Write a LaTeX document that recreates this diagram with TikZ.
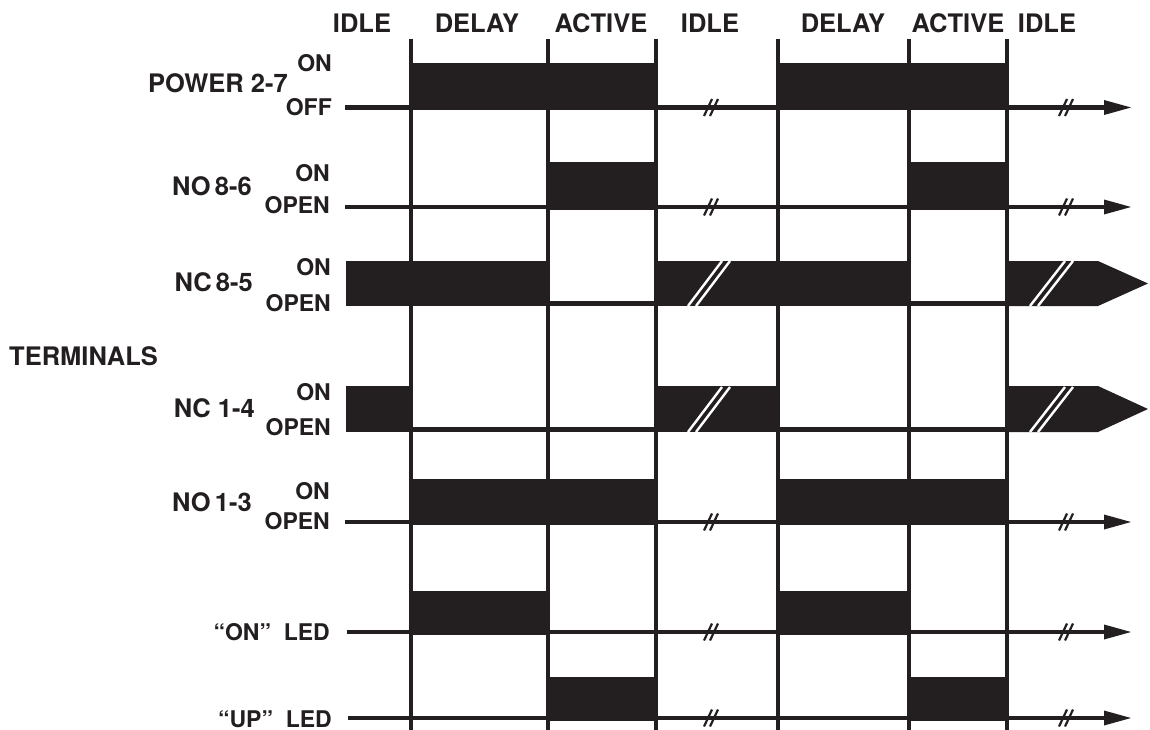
\documentclass[tikz,border=0pt]{standalone}
\usepackage{fontspec}
\setmainfont{TeX Gyre Heros}
\definecolor{ink}{RGB}{35,31,32}
\begin{document}
\begin{tikzpicture}[x=1pt,y=-1pt,
  big/.style={font=\fontsize{25.5}{27}\selectfont\bfseries, text=ink, inner sep=0pt},
  small/.style={font=\fontsize{23}{24}\selectfont\bfseries, text=ink, inner sep=0pt},
  grid/.style={draw=ink, line width=4pt},
  base/.style={draw=ink, line width=4.5pt},
  bar/.style={fill=ink, draw=none},
  slash/.style={draw=ink, line width=2.2pt},
  wslash/.style={draw=white, line width=2.4pt},
  tip/.style={fill=ink, draw=none}]
\useasboundingbox (0,0) rectangle (1150,730);

% ---------- header labels ----------
\node[big, anchor=base] (h1) at (362,33) {IDLE};
\node[big, anchor=base] (h2) at (477,33) {DELAY};
\node[big, anchor=base] (h3) at (601,33) {ACTIVE};
\node[big, anchor=base] (h4) at (710,33) {IDLE};
\node[big, anchor=base] (h5) at (843,33) {DELAY};
\node[big, anchor=base] (h6) at (958,33) {ACTIVE};
\node[big, anchor=base] (h7) at (1047,33) {IDLE};

% ---------- row labels ----------
\node[big, anchor=base east] (lpow) at (288,93) {POWER 2-7};
\node[small, anchor=base east] (lpowon) at (332,72) {ON};
\node[small, anchor=base east] (lpowoff) at (332,116) {OFF};

\node[big, anchor=base east] (lno86) at (252,195) {NO\,8-6};
\node[small, anchor=base east] (lno86on) at (330,182) {ON};
\node[small, anchor=base east] (lno86op) at (330,213) {OPEN};

\node[big, anchor=base east] (lnc85) at (253,291) {NC\,8-5};
\node[small, anchor=base east] (lnc85on) at (331,275) {ON};
\node[small, anchor=base east] (lnc85op) at (331,311) {OPEN};

\node[big, anchor=base west] (lterm) at (9,365) {TERMINALS};

\node[big, anchor=base east] (lnc14) at (255,417) {NC 1-4};
\node[small, anchor=base east] (lnc14on) at (331,400) {ON};
\node[small, anchor=base east] (lnc14op) at (331,435) {OPEN};

\node[big, anchor=base east] (lno13) at (252,511) {NO\,1-3};
\node[small, anchor=base east] (lno13on) at (330,499) {ON};
\node[small, anchor=base east] (lno13op) at (330,529) {OPEN};

\node[small, anchor=base east] (lonled) at (330,640) {“ON”\ \ LED};
\node[small, anchor=base east] (lupled) at (332,727) {“UP”\ \ LED};

% ---------- vertical phase lines ----------
\foreach \x in {411,548,656,778,909,1007}
  \draw[grid] (\x,39) -- (\x,730);

% ---------- POWER 2-7 ----------
\draw[base] (345,107.5) -- (1108,107.5);
\fill[tip] (1104,100) -- (1131,107.5) -- (1104,115) -- cycle;
\fill[bar] (411,63) rectangle (656,110);
\fill[bar] (778,63) rectangle (1007,110);

% ---------- NO 8-6 ----------
\draw[base] (345,207) -- (1108,207);
\fill[tip] (1104,199.5) -- (1131,207) -- (1104,214.5) -- cycle;
\fill[bar] (548,162) rectangle (656,209.5);
\fill[bar] (909,162) rectangle (1007,209.5);

% ---------- NC 8-5 ----------
\draw[base] (548,303.5) -- (656,303.5);
\draw[base] (909,303.5) -- (1007,303.5);
\fill[bar] (346,261) rectangle (548,306);
\fill[bar] (656,261) rectangle (909,306);
\fill[tip] (1007,261) -- (1098,261) -- (1148,283.5) -- (1098,306) -- (1007,306) -- cycle;
\draw[wslash] (688,306) -- (722,261);
\draw[wslash] (696,306) -- (730,261);
\draw[wslash] (1030,306) -- (1065,261);
\draw[wslash] (1038,306) -- (1073,261);

% ---------- NC 1-4 ----------
\draw[base] (411,429.5) -- (656,429.5);
\draw[base] (778,429.5) -- (1007,429.5);
\fill[bar] (346,386) rectangle (411,432);
\fill[bar] (656,386) rectangle (778,432);
\fill[tip] (1007,386) -- (1098,386) -- (1148,409) -- (1098,432) -- (1007,432) -- cycle;
\draw[wslash] (688,432) -- (722,387);
\draw[wslash] (696,432) -- (730,387);
\draw[wslash] (1030,432) -- (1065,387);
\draw[wslash] (1038,432) -- (1073,387);

% ---------- NO 1-3 ----------
\draw[base] (345,522) -- (1108,522);
\fill[tip] (1104,514.5) -- (1131,522) -- (1104,529.5) -- cycle;
\fill[bar] (411,479) rectangle (656,524.5);
\fill[bar] (778,479) rectangle (1007,524.5);

% ---------- "ON" LED ----------
\draw[base] (347,632) -- (1108,632);
\fill[tip] (1104,624.5) -- (1131,632) -- (1104,639.5) -- cycle;
\fill[bar] (411,591) rectangle (548,634.5);
\fill[bar] (778,591) rectangle (909,634.5);

% ---------- "UP" LED ----------
\draw[base] (348,718) -- (1108,718);
\fill[tip] (1104,710.5) -- (1131,718) -- (1104,725.5) -- cycle;
\fill[bar] (548,677) rectangle (656,720.5);
\fill[bar] (909,677) rectangle (1007,720.5);

% ---------- break marks on thin lines ----------
\foreach \y in {107.5,207,522,632,718}{
  \foreach \x in {711,1066}{
    \draw[slash] (\x-7,\y+8.5) -- (\x+1,\y-8.5);
    \draw[slash] (\x-1,\y+8.5) -- (\x+7,\y-8.5);
  }
}
\end{tikzpicture}
\end{document}
